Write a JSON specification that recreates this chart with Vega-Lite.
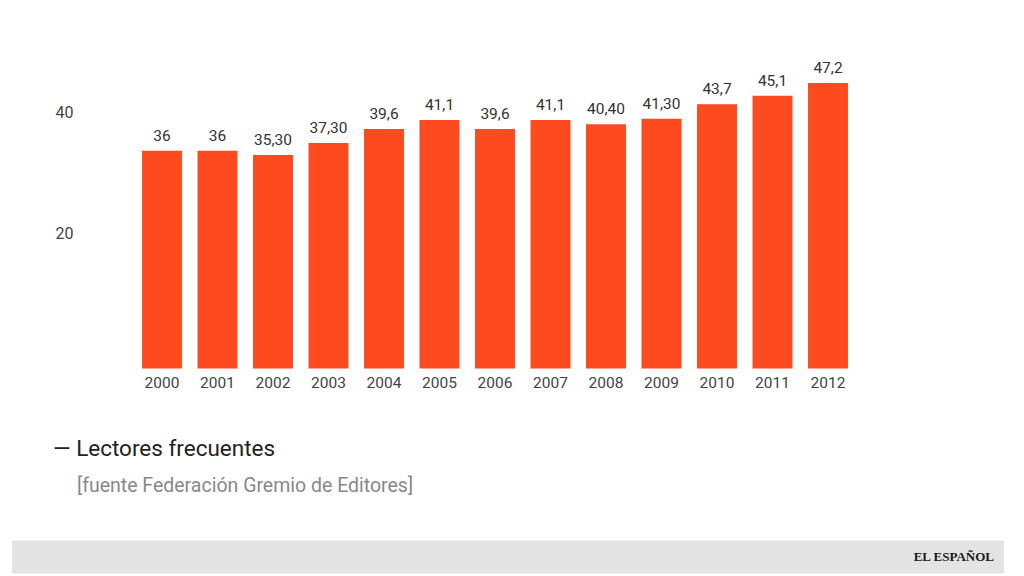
{
  "$schema": "https://vega.github.io/schema/vega-lite/v6.json",
  "background": "white",
  "padding": {"left": 12, "top": 54, "right": 20, "bottom": 3},
  "bounds": "flush",
  "spacing": 171.4,
  "datasets": {
    "lectores": [
      {"anio": "2000", "valor": 36, "etiqueta": "36"},
      {"anio": "2001", "valor": 36, "etiqueta": "36"},
      {"anio": "2002", "valor": 35.3, "etiqueta": "35,30"},
      {"anio": "2003", "valor": 37.3, "etiqueta": "37,30"},
      {"anio": "2004", "valor": 39.6, "etiqueta": "39,6"},
      {"anio": "2005", "valor": 41.1, "etiqueta": "41,1"},
      {"anio": "2006", "valor": 39.6, "etiqueta": "39,6"},
      {"anio": "2007", "valor": 41.1, "etiqueta": "41,1"},
      {"anio": "2008", "valor": 40.4, "etiqueta": "40,40"},
      {"anio": "2009", "valor": 41.3, "etiqueta": "41,30"},
      {"anio": "2010", "valor": 43.7, "etiqueta": "43,7"},
      {"anio": "2011", "valor": 45.1, "etiqueta": "45,1"},
      {"anio": "2012", "valor": 47.2, "etiqueta": "47,2"}
    ],
    "pie": [{"marca": "EL ESPAÑOL"}]
  },
  "vconcat": [
    {
      "width": 992,
      "height": 314.6,
      "data": {"name": "lectores"},
      "title": {
        "text": "— Lectores frecuentes",
        "orient": "bottom",
        "anchor": "start",
        "frame": "group",
        "dx": 41,
        "offset": 47,
        "font": "Roboto",
        "fontSize": 22.5,
        "fontWeight": "normal",
        "color": "#222222"
      },
      "encoding": {
        "x": {
          "field": "anio",
          "type": "ordinal",
          "scale": {"range": [122.25, 843.75], "paddingInner": 0.28, "paddingOuter": 0.14},
          "axis": {
            "title": null,
            "labelAngle": 0,
            "ticks": false,
            "domain": false,
            "labelPadding": 7,
            "labelFont": "Roboto",
            "labelFontSize": 15.5,
            "labelColor": "#444444"
          }
        },
        "y": {
          "field": "valor",
          "type": "quantitative",
          "scale": {"domain": [0, 52], "nice": false},
          "axis": {
            "title": null,
            "values": [20, 40],
            "offset": -43,
            "orient": "left",
            "labelAlign": "left",
            "labelPadding": 0,
            "tickSize": 0,
            "ticks": false,
            "domain": false,
            "grid": false,
            "labelOffset": -14,
            "labelFont": "Roboto",
            "labelFontSize": 16,
            "labelColor": "#444444"
          }
        }
      },
      "layer": [
        {"mark": {"type": "bar", "color": "#fe4a1f"}},
        {
          "mark": {
            "type": "text",
            "baseline": "bottom",
            "dy": -7,
            "font": "Roboto",
            "fontSize": 15.5,
            "color": "#333333"
          },
          "encoding": {"text": {"field": "etiqueta"}}
        }
      ]
    },
    {
      "width": 992,
      "height": 33,
      "data": {"name": "pie"},
      "title": {
        "text": "[fuente Federación Gremio de Editores]",
        "orient": "top",
        "anchor": "start",
        "frame": "group",
        "dx": 65,
        "offset": 44,
        "font": "Roboto",
        "fontSize": 19.5,
        "fontWeight": "normal",
        "color": "#888888"
      },
      "view": {"fill": "#e4e4e4", "stroke": null},
      "mark": {
        "type": "text",
        "align": "right",
        "dx": -10,
        "font": "Liberation Serif",
        "fontSize": 13,
        "fontWeight": "bold",
        "color": "#1a1a1a"
      },
      "encoding": {
        "text": {"field": "marca"},
        "x": {"value": "width"}
      }
    }
  ],
  "config": {
    "view": {"stroke": null},
    "font": "Roboto"
  }
}
